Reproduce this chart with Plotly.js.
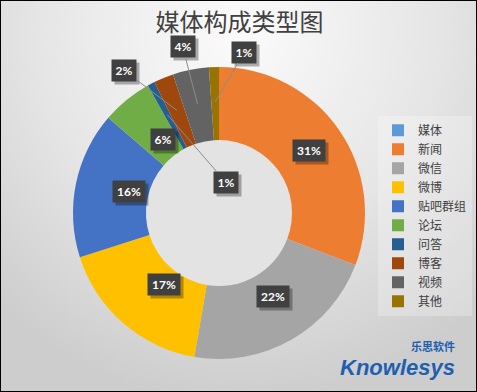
<!DOCTYPE html>
<html>
<head>
<meta charset="utf-8">
<script src="https://cdn.plot.ly/plotly-3.0.1.min.js"></script>
<style>
html,body{margin:0;padding:0;}
body{width:477px;height:392px;overflow:hidden;}
#wrap{position:relative;width:477px;height:392px;box-sizing:border-box;border:1px solid #000;
 background:radial-gradient(ellipse 75% 95% at 50% 8%, #fbfbfb 0%, #e6e6e6 55%, #cdcdcd 100%);}
#chart{position:absolute;left:0;top:0;width:477px;height:392px;}
</style>
</head>
<body>
<div id="wrap"><div id="chart"></div></div>
<script>
// ---- data ----
const categories = ['媒体','新闻','微信','微博','贴吧群组','论坛','问答','博客','视频','其他'];
const values = [0, 30.8, 21.9, 17.4, 16.2, 5.6, 0.8, 2.2, 4.0, 1.1];
const colors = ['#5B9BD5','#ED7D31','#A5A5A5','#FFC000','#4472C4','#70AD47','#255E91','#9E480E','#636363','#997300'];
const chartTitle = '媒体构成类型图';

// ---- geometry (layout only) ----
const W = 477, H = 392;
const cx = 218, cy = 212, R = 146, holeFrac = 0.5;
const dom = {x:[(cx-R)/W,(cx+R)/W], y:[(H-cy-R)/H,(H-cy+R)/H]};
// callout offsets (pixels) for small slices, null = label inside slice
const callout = [null,null,null,null,null,null,[59,68],[-53,-40],[-15,-58],[29,-50]];

const total = values.reduce((a,b)=>a+b,0);
const annotations = [];
let cum = 0;
values.forEach((v,i)=>{
  const start = cum; cum += v;
  if (v <= 0) return;
  const mid = (start + v/2)/total*2*Math.PI;
  const rr = callout[i] ? R*0.76 : R*(1+holeFrac)/2;
  const px = cx + rr*Math.sin(mid), py = cy - rr*Math.cos(mid);
  const txt = Math.round(v/total*100) + '%';
  const bw = txt.length*8 + 2, bh = 15;
  const base = {xref:'paper', yref:'paper', x: px/W, y: (H-py)/H, text: txt, width:bw, height:bh,
    font:{family:'Lato, "DejaVu Sans", sans-serif', size:12, color:'#ffffff', weight:'bold'},
    bgcolor:'#404040', borderpad:3};
  const shadow = Object.assign({}, base, {text:'&nbsp;', bgcolor:'rgba(0,0,0,0.3)'});
  if (callout[i]) {
    annotations.push(Object.assign(shadow, {showarrow:true, arrowcolor:'rgba(0,0,0,0)', arrowwidth:0.1,
      ax: callout[i][0]+3, ay: callout[i][1]+3}));
    annotations.push(Object.assign({}, base, {showarrow:true, arrowhead:0, arrowwidth:1, arrowcolor:'#8c8c8c',
      ax: callout[i][0], ay: callout[i][1]}));
  } else {
    annotations.push(Object.assign(shadow, {showarrow:false, xshift:3, yshift:-3}));
    annotations.push(Object.assign({}, base, {showarrow:false}));
  }
});

const trace = {
  type:'pie', labels:categories, values:values, hole:holeFrac, sort:false,
  direction:'clockwise', rotation:0, textinfo:'none', hoverinfo:'label+percent',
  marker:{colors:colors, line:{width:0}}, domain:dom, showlegend:true
};

const layout = {
  width:W, height:H, margin:{l:0,r:0,t:0,b:0},
  paper_bgcolor:'rgba(0,0,0,0)', plot_bgcolor:'rgba(0,0,0,0)',
  title:{text:chartTitle, x:0.5, xanchor:'center', y:1-22/H, yanchor:'middle',
    font:{family:'"Noto Sans CJK SC", sans-serif', size:24, color:'#404040'}},
  legend:{x:377/W, xanchor:'left', y:0.452, yanchor:'middle', bgcolor:'rgba(255,255,255,0.25)',
    font:{family:'"Noto Sans CJK SC", sans-serif', size:12, color:'#404040'}, itemwidth:30},
  shapes:[{type:'circle', xref:'paper', yref:'paper', layer:'below',
    x0:(cx-R*holeFrac)/W, x1:(cx+R*holeFrac)/W, y0:(H-cy-R*holeFrac)/H, y1:(H-cy+R*holeFrac)/H,
    fillcolor:'#e3e3e3', line:{width:0}}],
  annotations:annotations.concat([
    {xref:'paper', yref:'paper', x:456/W, y:11/H, xanchor:'right', yanchor:'bottom', showarrow:false,
     text:'<i><b>Knowlesys</b></i>', font:{family:'"Liberation Sans", Arial, sans-serif', size:22, color:'#1f5fb0'}},
    {xref:'paper', yref:'paper', x:456/W, y:1-345/H, xanchor:'right', yanchor:'middle', showarrow:false,
     text:'<b>乐思软件</b>', font:{family:'"Noto Sans CJK SC", sans-serif', size:11, color:'#1f5fb0'}}
  ])
};

Plotly.newPlot('chart', [trace], layout, {displayModeBar:false, staticPlot:true});
</script>
</body>
</html>
